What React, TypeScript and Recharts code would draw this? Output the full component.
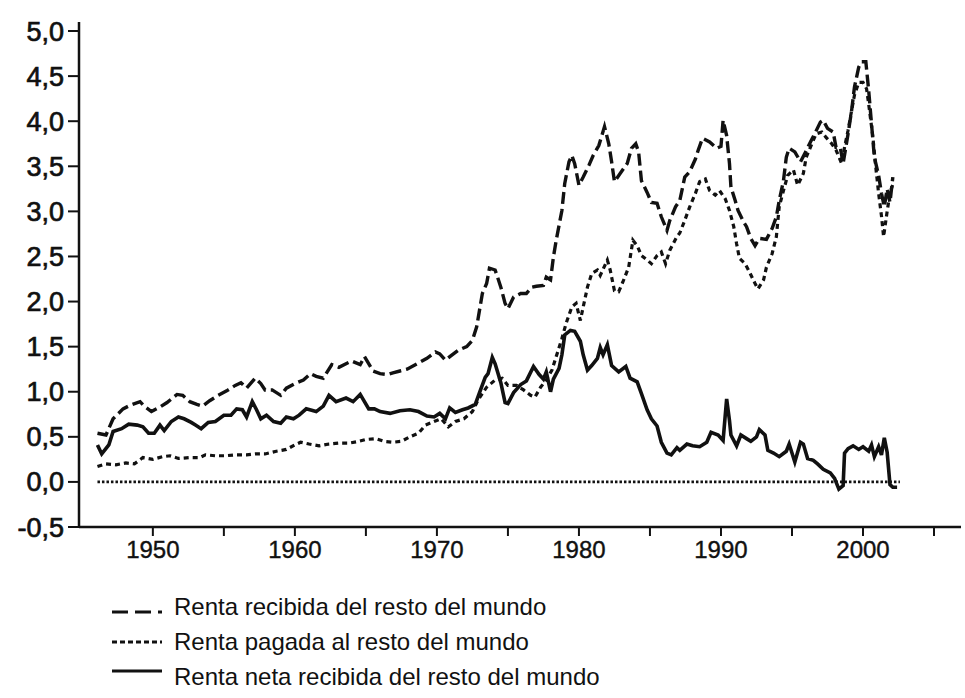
import React from "react";
import { LineChart, Line, XAxis, YAxis } from "recharts";

// Renta recibida del resto del mundo (% PIB)
const recibida: [number, number][] = [
  [1946.1, 0.54], [1946.7, 0.52], [1947.2, 0.7], [1947.9, 0.81], [1948.4, 0.85], [1949.1, 0.89],
  [1949.4, 0.84], [1949.9, 0.78], [1950.5, 0.83], [1951.0, 0.88], [1951.7, 0.97], [1952.1, 0.96],
  [1952.6, 0.89], [1953.1, 0.86], [1953.5, 0.84], [1954.0, 0.9], [1954.6, 0.96], [1955.2, 1.01],
  [1955.8, 1.07], [1956.2, 1.1], [1956.6, 1.04], [1957.2, 1.15], [1957.6, 1.09], [1957.9, 1.02],
  [1958.4, 1.02], [1959.0, 0.96], [1959.4, 1.04], [1960.0, 1.09], [1960.6, 1.13], [1961.1, 1.2],
  [1961.5, 1.17], [1962.0, 1.15], [1962.6, 1.3], [1963.1, 1.27], [1963.6, 1.31], [1964.0, 1.34],
  [1964.6, 1.3], [1964.9, 1.39], [1965.5, 1.23], [1966.0, 1.2], [1966.5, 1.19], [1966.9, 1.21],
  [1967.4, 1.23], [1967.9, 1.25], [1968.6, 1.31], [1969.3, 1.37], [1969.9, 1.44], [1970.2, 1.42],
  [1970.6, 1.35], [1971.0, 1.4], [1971.5, 1.46], [1972.1, 1.5], [1972.5, 1.57], [1972.8, 1.72],
  [1973.2, 2.09], [1973.5, 2.2], [1973.7, 2.37], [1974.1, 2.35], [1974.5, 2.16], [1974.8, 1.98],
  [1975.0, 1.92], [1975.4, 2.05], [1975.9, 2.09], [1976.3, 2.09], [1976.7, 2.16], [1977.0, 2.17],
  [1977.5, 2.18], [1977.7, 2.27], [1978.0, 2.24], [1978.2, 2.49], [1978.4, 2.68], [1978.8, 3.01],
  [1979.0, 3.31], [1979.3, 3.55], [1979.5, 3.62], [1979.7, 3.53], [1980.0, 3.29], [1980.3, 3.38],
  [1980.7, 3.51], [1981.0, 3.62], [1981.4, 3.73], [1981.8, 3.94], [1982.1, 3.75], [1982.3, 3.55],
  [1982.5, 3.33], [1982.9, 3.42], [1983.4, 3.53], [1983.7, 3.7], [1984.0, 3.75], [1984.2, 3.66],
  [1984.4, 3.34], [1984.8, 3.21], [1985.1, 3.1], [1985.5, 3.09], [1985.8, 2.94], [1986.2, 2.79],
  [1986.4, 2.9], [1986.8, 3.05], [1987.1, 3.12], [1987.45, 3.38], [1987.8, 3.44], [1988.2, 3.58],
  [1988.4, 3.68], [1988.7, 3.81], [1989.2, 3.77], [1989.7, 3.7], [1990.0, 3.72], [1990.15, 4.01],
  [1990.4, 3.84], [1990.6, 3.53], [1990.7, 3.27], [1991.0, 3.12], [1991.2, 3.01], [1991.6, 2.88],
  [1991.8, 2.83], [1992.1, 2.7], [1992.4, 2.62], [1992.7, 2.7], [1993.2, 2.69], [1993.6, 2.81],
  [1993.9, 2.94], [1994.1, 3.12], [1994.4, 3.34], [1994.6, 3.6], [1994.8, 3.7], [1995.2, 3.66],
  [1995.6, 3.55], [1995.9, 3.64], [1996.3, 3.77], [1996.6, 3.86], [1997.0, 3.99], [1997.2, 4.01],
  [1997.5, 3.92], [1997.9, 3.88], [1998.1, 3.71], [1998.4, 3.71], [1998.6, 3.53], [1998.95, 3.86],
  [1999.2, 4.12], [1999.4, 4.38], [1999.7, 4.6], [1999.9, 4.66], [2000.2, 4.66], [2000.4, 4.34],
  [2000.6, 3.97], [2000.8, 3.6], [2001.1, 3.4], [2001.3, 3.2], [2001.5, 3.05], [2001.7, 3.25],
  [2001.9, 3.1], [2002.1, 3.38],
];

// Renta pagada al resto del mundo
const pagada: [number, number][] = [
  [1946.1, 0.17], [1946.7, 0.2], [1947.4, 0.19], [1948.1, 0.21], [1948.7, 0.2], [1949.3, 0.27],
  [1950.0, 0.25], [1950.7, 0.28], [1951.2, 0.29], [1951.8, 0.26], [1952.6, 0.27], [1953.3, 0.27],
  [1953.7, 0.3], [1954.4, 0.29], [1955.1, 0.29], [1955.8, 0.3], [1956.6, 0.3], [1957.2, 0.31],
  [1957.9, 0.31], [1958.7, 0.34], [1959.4, 0.36], [1960.0, 0.41], [1960.4, 0.44], [1961.0, 0.42],
  [1961.7, 0.4], [1962.4, 0.42], [1963.1, 0.43], [1963.8, 0.43], [1964.5, 0.45], [1965.0, 0.47],
  [1965.7, 0.48], [1966.3, 0.45], [1966.9, 0.44], [1967.5, 0.45], [1968.1, 0.5], [1968.7, 0.54],
  [1969.2, 0.63], [1969.8, 0.67], [1970.3, 0.7], [1970.8, 0.61], [1971.3, 0.67], [1971.9, 0.7],
  [1972.5, 0.78], [1972.9, 0.91], [1973.5, 1.05], [1974.1, 1.13], [1974.6, 1.15], [1975.0, 1.07],
  [1975.6, 1.07], [1976.1, 1.02], [1976.6, 0.96], [1976.9, 0.94], [1977.3, 1.05], [1977.7, 1.13],
  [1978.1, 1.24], [1978.4, 1.39], [1978.8, 1.59], [1979.1, 1.76], [1979.5, 1.94], [1979.8, 1.98],
  [1980.1, 1.79], [1980.3, 1.94], [1980.6, 2.16], [1980.9, 2.31], [1981.3, 2.35], [1981.5, 2.29],
  [1982.0, 2.46], [1982.2, 2.35], [1982.5, 2.12], [1982.8, 2.11], [1983.1, 2.22], [1983.5, 2.38],
  [1983.8, 2.68], [1984.1, 2.62], [1984.4, 2.51], [1984.8, 2.46], [1985.1, 2.42], [1985.5, 2.51],
  [1985.8, 2.55], [1986.1, 2.42], [1986.4, 2.57], [1986.9, 2.72], [1987.1, 2.76], [1987.45, 2.9],
  [1987.8, 3.05], [1988.2, 3.2], [1988.5, 3.33], [1988.9, 3.36], [1989.2, 3.23], [1989.6, 3.18],
  [1989.9, 3.23], [1990.3, 3.14], [1990.6, 3.01], [1990.9, 2.83], [1991.1, 2.64], [1991.3, 2.48],
  [1991.7, 2.42], [1992.0, 2.33], [1992.4, 2.2], [1992.6, 2.14], [1993.0, 2.24], [1993.2, 2.38],
  [1993.6, 2.53], [1993.9, 2.72], [1994.1, 3.05], [1994.4, 3.23], [1994.7, 3.4], [1995.1, 3.46],
  [1995.4, 3.29], [1995.8, 3.42], [1996.0, 3.6], [1996.4, 3.75], [1996.7, 3.86], [1997.1, 3.88],
  [1997.4, 3.82], [1997.8, 3.75], [1998.1, 3.68], [1998.5, 3.53], [1998.7, 3.71], [1998.95, 3.9],
  [1999.2, 4.12], [1999.4, 4.29], [1999.7, 4.43], [2000.0, 4.43], [2000.25, 4.36], [2000.4, 4.19],
  [2000.7, 3.82], [2000.9, 3.49], [2001.1, 3.2], [2001.3, 2.95], [2001.45, 2.72], [2001.7, 3.0],
  [2001.9, 3.2], [2002.1, 3.3],
];

// Renta neta recibida del resto del mundo
const neta: [number, number][] = [
  [1946.1, 0.41], [1946.4, 0.31], [1946.9, 0.41], [1947.2, 0.56], [1947.8, 0.59], [1948.3, 0.64],
  [1948.9, 0.63], [1949.3, 0.61], [1949.7, 0.54], [1950.1, 0.54], [1950.5, 0.63], [1950.8, 0.57],
  [1951.3, 0.67], [1951.8, 0.72], [1952.2, 0.7], [1952.7, 0.66], [1953.0, 0.63], [1953.4, 0.59],
  [1953.9, 0.66], [1954.4, 0.67], [1955.0, 0.74], [1955.5, 0.74], [1955.9, 0.81], [1956.3, 0.8],
  [1956.6, 0.72], [1957.0, 0.89], [1957.3, 0.8], [1957.6, 0.7], [1958.0, 0.74], [1958.5, 0.67],
  [1959.0, 0.65], [1959.4, 0.72], [1959.9, 0.7], [1960.3, 0.74], [1960.8, 0.81], [1961.5, 0.78],
  [1962.0, 0.84], [1962.4, 0.96], [1962.9, 0.89], [1963.6, 0.93], [1964.1, 0.89], [1964.6, 0.97],
  [1965.2, 0.81], [1965.6, 0.81], [1966.0, 0.78], [1966.7, 0.76], [1967.4, 0.79], [1968.1, 0.8],
  [1968.7, 0.78], [1969.3, 0.73], [1969.8, 0.72], [1970.2, 0.76], [1970.6, 0.7], [1970.9, 0.82],
  [1971.3, 0.77], [1971.8, 0.8], [1972.2, 0.82], [1972.7, 0.86], [1973.0, 0.99], [1973.4, 1.16],
  [1973.6, 1.2], [1973.9, 1.38], [1974.1, 1.31], [1974.5, 1.1], [1974.8, 0.88], [1975.0, 0.87],
  [1975.4, 0.99], [1975.9, 1.08], [1976.3, 1.12], [1976.8, 1.28], [1977.2, 1.19], [1977.5, 1.14],
  [1977.7, 1.22], [1978.0, 1.0], [1978.2, 1.14], [1978.6, 1.26], [1978.8, 1.41], [1979.0, 1.63],
  [1979.4, 1.68], [1979.7, 1.67], [1980.1, 1.56], [1980.3, 1.41], [1980.6, 1.24], [1980.9, 1.29],
  [1981.3, 1.37], [1981.5, 1.49], [1981.7, 1.41], [1982.0, 1.52], [1982.3, 1.29], [1982.8, 1.22],
  [1983.3, 1.28], [1983.6, 1.15], [1984.1, 1.11], [1984.4, 0.98], [1984.8, 0.8], [1985.1, 0.7],
  [1985.5, 0.62], [1985.8, 0.44], [1986.2, 0.32], [1986.5, 0.3], [1986.9, 0.38], [1987.1, 0.35],
  [1987.6, 0.42], [1988.0, 0.4], [1988.5, 0.39], [1989.0, 0.44], [1989.3, 0.55], [1989.8, 0.52],
  [1990.15, 0.46], [1990.4, 0.92], [1990.6, 0.68], [1990.7, 0.52], [1991.1, 0.4], [1991.4, 0.52],
  [1991.8, 0.48], [1992.1, 0.45], [1992.5, 0.5], [1992.7, 0.58], [1993.1, 0.52], [1993.3, 0.35],
  [1993.7, 0.32], [1994.1, 0.28], [1994.6, 0.34], [1994.8, 0.42], [1995.2, 0.22], [1995.6, 0.44],
  [1995.8, 0.42], [1996.1, 0.26], [1996.5, 0.24], [1996.8, 0.2], [1997.2, 0.14], [1997.7, 0.1],
  [1998.0, 0.04], [1998.3, -0.08], [1998.6, -0.04], [1998.7, 0.32], [1998.95, 0.37], [1999.3, 0.4],
  [1999.7, 0.36], [2000.0, 0.39], [2000.4, 0.34], [2000.6, 0.41], [2000.8, 0.28], [2001.1, 0.39],
  [2001.3, 0.3], [2001.5, 0.49], [2001.7, 0.33], [2001.9, -0.03], [2002.1, -0.06], [2002.4, -0.06],
];

// línea de cero punteada
const cero: [number, number][] = [[1946.1, 0], [2002.6, 0]];

const xTicks = [1950, 1955, 1960, 1965, 1970, 1975, 1980, 1985, 1990, 1995, 2000, 2005];
const yTicks = [-0.5, 0, 0.5, 1, 1.5, 2, 2.5, 3, 3.5, 4, 4.5, 5];

const legendItems = [
  { label: "Renta recibida del resto del mundo", dash: "16 7", offset: 5 },
  { label: "Renta pagada al resto del mundo", dash: "5 3", offset: 0 },
  { label: "Renta neta recibida del resto del mundo", dash: "", offset: -6 },
];

const toPoints = (arr: [number, number][]) => arr.map(([x, y]) => ({ x, y }));

const font = "'Liberation Sans', Arial, Helvetica, sans-serif";
const ink = "#111";

export default function App() {
  return (
    <div
      style={{
        position: "absolute",
        left: 0,
        top: 0,
        width: 965,
        height: 698,
        background: "#fff",
        fontFamily: font,
      }}
    >
      <LineChart width={965} height={580} margin={{ top: 22, right: 4, left: 9, bottom: 11 }}>
        <XAxis
          type="number"
          dataKey="x"
          domain={[1944.8, 2006.9]}
          ticks={xTicks}
          allowDataOverflow
          tickFormatter={(v: number) => (v % 10 === 0 ? String(v) : "")}
          axisLine={{ stroke: ink, strokeWidth: 2.5 }}
          tickLine={{ stroke: ink, strokeWidth: 2 }}
          tickSize={9}
          tickMargin={5}
          height={42}
          tick={{ fill: ink, fontSize: 24, fontFamily: font, stroke: ink, strokeWidth: 0.4 }}
        />
        <YAxis
          type="number"
          domain={[-0.5, 5.1]}
          ticks={yTicks}
          allowDataOverflow
          tickFormatter={(v: number) => v.toFixed(1).replace(".", ",")}
          axisLine={{ stroke: ink, strokeWidth: 2.5 }}
          tickLine={{ stroke: ink, strokeWidth: 2 }}
          tickSize={11}
          tickMargin={4}
          width={70}
          tick={{ fill: ink, fontSize: 27, fontFamily: font, stroke: ink, strokeWidth: 0.7 }}
        />
        <Line
          data={toPoints(cero)}
          dataKey="y"
          stroke={ink}
          strokeWidth={2.8}
          strokeDasharray="2.5 2"
          dot={false}
          isAnimationActive={false}
        />
        <Line
          data={toPoints(pagada)}
          dataKey="y"
          stroke={ink}
          strokeWidth={3.2}
          strokeDasharray="5 4"
          dot={false}
          isAnimationActive={false}
        />
        <Line
          data={toPoints(recibida)}
          dataKey="y"
          stroke={ink}
          strokeWidth={3.4}
          strokeDasharray="12 5"
          dot={false}
          isAnimationActive={false}
        />
        <Line
          data={toPoints(neta)}
          dataKey="y"
          stroke={ink}
          strokeWidth={3.6}
          dot={false}
          isAnimationActive={false}
        />
      </LineChart>
      {legendItems.map((item, i) => (
        <div
          key={item.label}
          style={{
            position: "absolute",
            left: 112,
            top: 593 + i * 35,
            height: 28,
            display: "flex",
            alignItems: "center",
            fontSize: 24,
            color: ink,
          }}
        >
          <svg width={54} height={28} style={{ display: "block" }}>
            <line
              x1={0}
              x2={50}
              y1={14 + item.offset}
              y2={14 + item.offset}
              stroke={ink}
              strokeWidth={3}
              strokeDasharray={item.dash || undefined}
            />
          </svg>
          <span style={{ marginLeft: 8 }}>{item.label}</span>
        </div>
      ))}
    </div>
  );
}
